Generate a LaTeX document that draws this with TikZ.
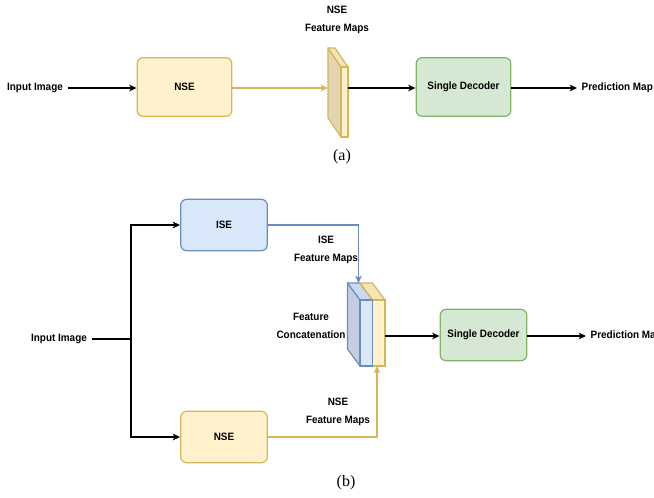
\documentclass[tikz,border=0pt]{standalone}
\usepackage{fontspec}
\setmainfont{Liberation Serif}
\newfontfamily\boxfont[FakeStretch=0.93]{Liberation Sans}
\usepackage{tikz}
\usetikzlibrary{arrows.meta, positioning}
\definecolor{nsefill}{HTML}{FFF2CC}
\definecolor{nseline}{HTML}{D6B656}
\definecolor{nseside}{HTML}{E3D5B1}
\definecolor{nsetop}{HTML}{F3E4B9}
\definecolor{isefill}{HTML}{DAE8FC}
\definecolor{iseline}{HTML}{6C8EBF}
\definecolor{iseside}{HTML}{C4CEE0}
\definecolor{isetop}{HTML}{C9D9EF}
\definecolor{decfill}{HTML}{D5E8D4}
\definecolor{decline}{HTML}{82B366}
\tikzset{
	smallsans/.style={font=\boxfont\bfseries\fontsize{8}{13}\selectfont, align=center}
}
\tikzset{
	captext/.style={font=\rmfamily\fontsize{12}{14}\selectfont}
}
\tikzset{
	block/.style={draw, rounded corners=4.5pt, line width=0.9pt, smallsans},
	wideblock/.style={block, minimum width=71pt, minimum height=44pt},
	narrowblock/.style={block, minimum width=65pt, minimum height=38.5pt},
	nsebox/.style={draw=nseline, fill=nsefill},
	isebox/.style={draw=iseline, fill=isefill},
	decbox/.style={draw=decline, fill=decfill},
	arr/.style={-{Stealth[length=5.5pt,width=5pt,inset=1.5pt]}, line width=0.9pt}
}

\begin{document}
\begin{tikzpicture}[x=0.75pt, y=-0.75pt]
      \useasboundingbox (0,0) rectangle (654,497);
      % (a) one encoder
      \node[smallsans] (inA) at (35,88) {Input Image};
      \node[wideblock, nsebox] (nseA) at (184.5,87) {NSE};
      \node[wideblock, decbox] (decA) at (463.5,87) {Single Decoder};
      \node[smallsans, anchor=west] (outA) at (577,88) {Prediction Map};
      \node[smallsans] (fmAlabel) at (337,20) {NSE\\Feature Maps};
      \filldraw[draw=nseline, fill=nseside, line width=0.9pt, line join=round]
        (341,67) -- ++(-13,-19) -- ++(0,70) -- ++(13,19) -- cycle;
      \filldraw[draw=nseline, fill=nsetop, line width=0.9pt, line join=round]
        (341,67) -- ++(-13,-19) -- ++(7,0) -- ++(13,19) -- cycle;
      \filldraw[draw=nseline, fill=nsefill, line width=0.9pt] (341,67) rectangle (348,137);
      \coordinate (fmAback) at (328,88);
      \coordinate (fmAfront) at (348,88);
      \draw[arr] (inA) -- (nseA.west |- inA);
      \draw[arr, nseline] (nseA.east |- fmAback) -- (fmAback);
      \draw[arr] (fmAfront) -- (decA.west |- fmAfront);
      \draw[arr] (decA.east |- outA) -- (outA);
      \node[captext] (capA) at (342,157) {(a)};
      % (b) two encoders
      \node[smallsans] (inB) at (59,339) {Input Image};
      \coordinate (split) at (131,339);
      \node[narrowblock, isebox] (iseB) at (224,225) {ISE};
      \node[narrowblock, nsebox] (nseB) at (224,437) {NSE};
      \node[narrowblock, decbox] (decB) at (483.5,335) {Single Decoder};
      \node[smallsans, anchor=west] (outB) at (586,336) {Prediction Map};
      \node[smallsans] (iseLabel) at (326,250) {ISE\\Feature Maps};
      \node[smallsans] (nseLabel) at (338,412) {NSE\\Feature Maps};
      \node[smallsans] (catLabel) at (311,326) {Feature\\Concatenation};
      \filldraw[draw=iseline, fill=iseside, line width=0.9pt, line join=round]
        (360,300) -- ++(-12.5,-17) -- ++(0,66) -- ++(12.5,17) -- cycle;
      \foreach \x/\fc/\tc/\lc in {360/isefill/isetop/iseline, 372.5/nsefill/nsetop/nseline} {
        \filldraw[draw=\lc, fill=\tc, line width=0.9pt, line join=round]
          (\x,300) -- ++(-12.5,-17) -- ++(12.5,0) -- ++(12.5,17) -- cycle;
      }
      \foreach \x/\fc/\tc/\lc in {372.5/nsefill/nsetop/nseline, 360/isefill/isetop/iseline} {
        \filldraw[draw=\lc, fill=\fc, line width=0.9pt] (\x,300) rectangle ++(12.5,66);
      }
      \coordinate (catTop) at (358.5,283);
      \coordinate (catBottom) at (377,366);
      \coordinate (catOut) at (385,336);
      \draw[line width=0.9pt] (inB) -- (split);
      \draw[arr] (split) |- (iseB);
      \draw[arr] (split) |- (nseB);
      \draw[arr, iseline] (iseB) -| (catTop);
      \draw[arr, nseline] (nseB) -| (catBottom);
      \draw[arr] (catOut) -- (decB.west |- catOut);
      \draw[arr] (decB.east |- outB) -- (outB);
      \node[captext] (capB) at (346,483) {(b)};
    \end{tikzpicture}
\end{document}
